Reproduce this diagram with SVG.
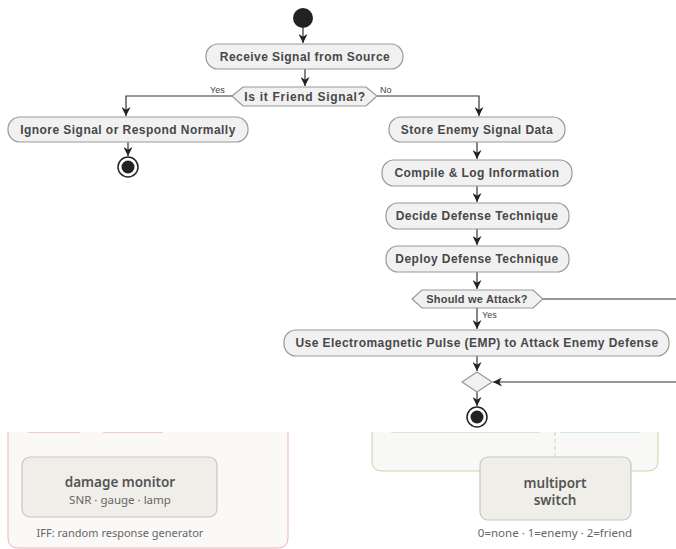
<svg xmlns="http://www.w3.org/2000/svg" width="676" height="549" viewBox="0 0 676 549">
<defs>
<marker id="ah" viewBox="0 0 10 10" refX="10" refY="5" markerWidth="9" markerHeight="9" markerUnits="userSpaceOnUse" orient="auto">
<path d="M0,0 L10,5 L0,10 L3,5 Z" fill="#222"/>
</marker>
<style>
.act{fill:#f1f1f1;stroke:#999;stroke-width:1.2}
.dec{fill:#f1f1f1;stroke:#999;stroke-width:1.2}
.t{font-family:"Liberation Sans",Arial,sans-serif;font-size:12px;font-weight:bold;fill:#484848;text-anchor:middle;letter-spacing:0.45px}
.lbl{font-family:"Liberation Sans",Arial,sans-serif;font-size:9px;fill:#444}
.c{fill:none;stroke:#333;stroke-width:1.2}
.card{fill:#f0eee9;stroke:#c9c6bf;stroke-width:1.2}
.h{font-family:"Noto Sans","Open Sans",sans-serif;font-size:13.5px;font-weight:600;fill:#555;text-anchor:middle}
.s{font-family:"Noto Sans","Open Sans",sans-serif;font-size:11.5px;fill:#666;text-anchor:middle}
</style>
</defs>
<rect width="676" height="549" fill="#fff"/>

<g id="connectors">
<path class="c" d="M303,28 V43" marker-end="url(#ah)"/>
<path class="c" d="M305,69 V86" marker-end="url(#ah)"/>
<path class="c" d="M232,96 H126 V116" marker-end="url(#ah)"/>
<path class="c" d="M377,96 H479 V116" marker-end="url(#ah)"/>
<path class="c" d="M128,142 V156" marker-end="url(#ah)"/>
<path class="c" d="M477,142 V159" marker-end="url(#ah)"/>
<path class="c" d="M477,186 V202" marker-end="url(#ah)"/>
<path class="c" d="M477,229 V245" marker-end="url(#ah)"/>
<path class="c" d="M477,272 V289" marker-end="url(#ah)"/>
<path class="c" d="M543,299 H676"/>
<path class="c" d="M477,308 V329" marker-end="url(#ah)"/>
<path class="c" d="M477,356 V371" marker-end="url(#ah)"/>
<path class="c" d="M676,382 H493" marker-end="url(#ah)"/>
<path class="c" d="M477,392 V406" marker-end="url(#ah)"/>
<text class="lbl" x="210" y="93">Yes</text>
<text class="lbl" x="380" y="93">No</text>
<text class="lbl" x="482" y="318">Yes</text>
</g>

<g id="start"><circle cx="303" cy="18" r="10" fill="#222"/></g>

<g id="receive"><rect class="act" x="206" y="44" width="197" height="25" rx="12"/><text class="t" x="305" y="61">Receive Signal from Source</text></g>

<g id="friend"><polygon class="dec" points="232,96 243,87 366,87 377,96 366,106 243,106"/><text class="t" x="305" y="100.5" style="letter-spacing:0.7px">Is it Friend Signal?</text></g>

<g id="ignore"><rect class="act" x="8" y="117" width="240" height="25" rx="12"/><text class="t" x="128" y="134">Ignore Signal or Respond Normally</text></g>

<g id="end1"><circle cx="128" cy="167" r="10" fill="#fff" stroke="#222" stroke-width="1.5"/><circle cx="128" cy="167" r="6.5" fill="#222"/></g>

<g id="store"><rect class="act" x="389" y="117" width="176" height="25" rx="12"/><text class="t" x="477" y="134">Store Enemy Signal Data</text></g>

<g id="compile"><rect class="act" x="382" y="160" width="190" height="26" rx="12"/><text class="t" x="477" y="177">Compile &amp; Log Information</text></g>

<g id="decide"><rect class="act" x="386" y="203" width="183" height="26" rx="12"/><text class="t" x="477" y="220">Decide Defense Technique</text></g>

<g id="deploy"><rect class="act" x="386" y="246" width="183" height="26" rx="12"/><text class="t" x="477" y="263">Deploy Defense Technique</text></g>

<g id="attack"><polygon class="dec" points="412,299 422,290 533,290 543,299 533,308 422,308"/><text class="t" x="477" y="303" style="font-size:11px;letter-spacing:0.2px">Should we Attack?</text></g>

<g id="emp"><rect class="act" x="284" y="330" width="385" height="26" rx="12"/><text class="t" x="477" y="347">Use Electromagnetic Pulse (EMP) to Attack Enemy Defense</text></g>

<g id="merge"><polygon class="dec" points="477,372 492,382 477,392 462,382"/></g>

<g id="end2"><circle cx="477" cy="417" r="10" fill="#fff" stroke="#222" stroke-width="1.5"/><circle cx="477" cy="417" r="6.5" fill="#222"/></g>

<g id="left-panel">
<path d="M8,432 V538 Q8,548 18,548 H278 Q288,548 288,538 V432 Z" fill="#faf9f8"/>
<path d="M8,432 V538 Q8,548 18,548 H278 Q288,548 288,538 V432" fill="none" stroke="#f0b4b4" stroke-width="1"/>
<line x1="28" y1="432.5" x2="80" y2="432.5" stroke="#f4cccc" stroke-width="1"/>
<line x1="103" y1="432.5" x2="163" y2="432.5" stroke="#f4cccc" stroke-width="1"/>
</g>

<g id="damage-monitor"><rect class="card" x="22" y="457" width="195" height="60" rx="8"/><text class="h" x="120" y="487">damage monitor</text><text class="s" x="120" y="504">SNR · gauge · lamp</text></g>
<text class="s" x="120" y="537" style="font-size:11px">IFF: random response generator</text>

<g id="right-panel">
<path d="M372,432 V461 Q372,471 382,471 H648 Q658,471 658,461 V432 Z" fill="#f8f8f6"/>
<path d="M372,432 V461 Q372,471 382,471 H648 Q658,471 658,461 V432" fill="none" stroke="#bcd9a6" stroke-width="1"/>
<line x1="391" y1="432.5" x2="540" y2="432.5" stroke="#d4e6d8" stroke-width="1"/>
<line x1="560" y1="432.5" x2="640" y2="432.5" stroke="#cfe6e6" stroke-width="1"/>
<line x1="555" y1="432" x2="555" y2="457" stroke="#cccccc" stroke-width="1" stroke-dasharray="4,3"/>
</g>

<g id="multiport-switch"><rect class="card" x="480" y="457" width="151" height="63" rx="8"/><text class="h" x="555" y="488">multiport</text><text class="h" x="555" y="505">switch</text></g>
<text class="s" x="555" y="537">0=none · 1=enemy · 2=friend</text>
</svg>
